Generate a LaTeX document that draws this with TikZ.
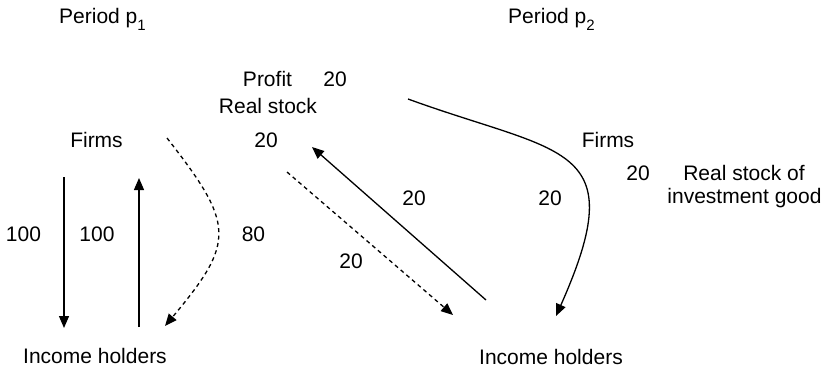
\documentclass[tikz,border=0pt]{standalone}
\usepackage{fontspec}
\setmainfont{Liberation Sans}
\usetikzlibrary{arrows.meta, positioning}
\newcommand{\sub}[1]{\raisebox{-7pt}{\fontsize{15}{15}\selectfont #1}}
\tikzset{
    lbl/.style={anchor=base, inner sep=0pt, font=\fontsize{21}{25}\selectfont},
    flow/.style={line width=1.3pt, -{Triangle[length=12pt, width=10pt]}},
    moneyflow/.style={flow, dash pattern=on 4pt off 3.5pt},
}
\begin{document}
\begin{tikzpicture}[x=1pt, y=-1pt]
    \useasboundingbox (0,0) rectangle (824,368);

    % Period headings
    \node[lbl, anchor=base west] (periodA) at (59,23) {Period p\sub{1}};
    \node[lbl, anchor=base west] (periodB) at (508,23) {Period p\sub{2}};

    % Period p1: firms and income holders
    \node[lbl] (firmsA) at (96.5,147) {Firms};
    \node[lbl] (holdersA) at (95,363) {Income holders};
    \node[lbl] (wagesA) at (23.5,241) {100};
    \node[lbl] (spendA) at (97,241) {100};
    \node[lbl] (consA) at (253.5,241) {80};

    % Profit and real stock
    \node[lbl] (profit) at (267.5,86) {Profit};
    \node[lbl] (profitVal) at (335,86) {20};
    \node[lbl] (stock) at (268,113) {Real stock};
    \node[lbl] (stockVal) at (266,147) {20};
    \node[lbl] (saveVal) at (351,268) {20};
    \node[lbl] (buyVal) at (414,205) {20};

    % Period p2: firms and income holders
    \node[lbl] (firmsB) at (608,147) {Firms};
    \node[lbl] (investVal) at (638,180) {20};
    \node[lbl] (investA) at (744,180) {Real stock of};
    \node[lbl] (investB) at (744.5,203) {investment good};
    \node[lbl] (incomeVal) at (550,205) {20};
    \node[lbl] (holdersB) at (551,364) {Income holders};

    % Arrow end points
    \coordinate (wagesTop) at (64,177);
    \coordinate (wagesBot) at (64,328);
    \coordinate (spendBot) at (139,327);
    \coordinate (spendTop) at (139,178);
    \coordinate (consTop) at (167,138);
    \coordinate (consBot) at (165,326);
    \coordinate (saveTop) at (287,172);
    \coordinate (saveBot) at (453,315);
    \coordinate (buyBot) at (486,300);
    \coordinate (buyTop) at (312,147);
    \coordinate (incomeTop) at (408,99);
    \coordinate (incomeBot) at (556,316);

    % Flows in period p1
    \draw[flow] (wagesTop) -- (wagesBot);
    \draw[flow] (spendBot) -- (spendTop);
    \draw[moneyflow] (consTop) .. controls +(52:110) and +(-50:110) .. (consBot);

    % Flows between the periods
    \draw[moneyflow] (saveTop) -- (saveBot);
    \draw[flow] (buyBot) -- (buyTop);
    \draw[flow] (incomeTop) .. controls +(20:165) and +(-66:190) .. (incomeBot);
\end{tikzpicture}
\end{document}
